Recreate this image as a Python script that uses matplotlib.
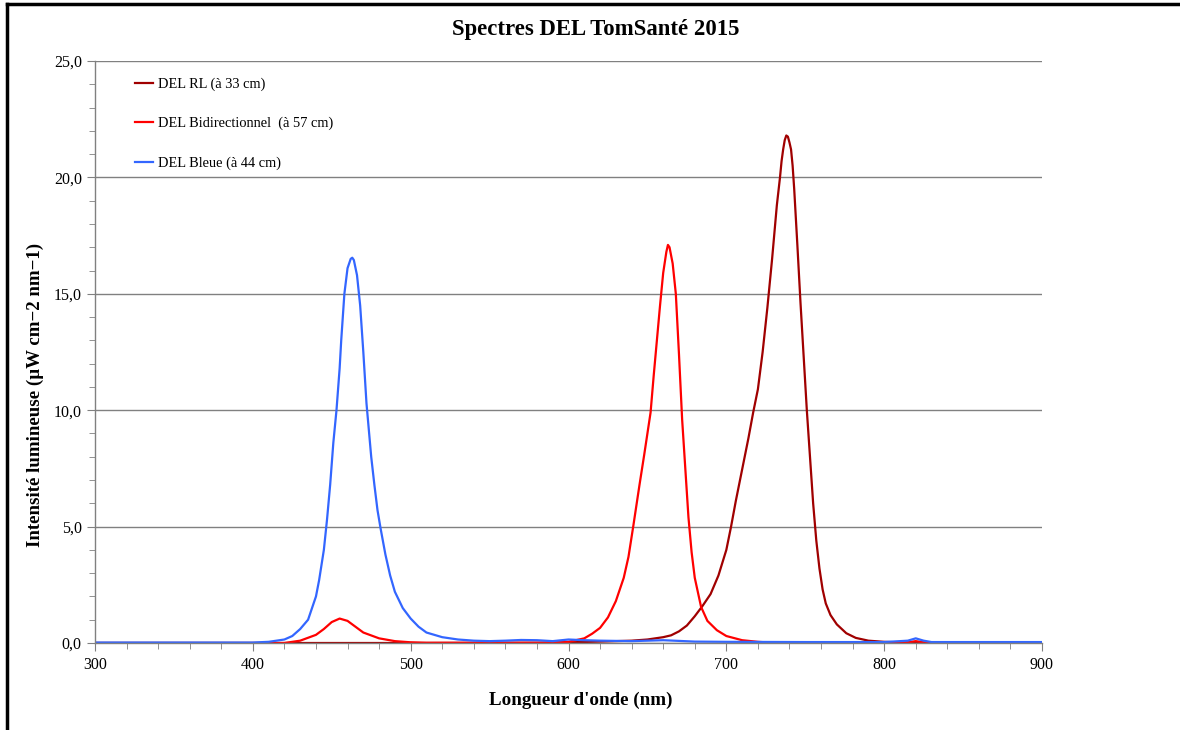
import matplotlib
matplotlib.use("Agg")
import matplotlib.pyplot as plt
from matplotlib.ticker import FuncFormatter, MultipleLocator
from matplotlib.lines import Line2D

plt.rcParams['font.family'] = ['Liberation Serif', 'DejaVu Serif']

# ---- data ----
wl_rl = [300, 400, 500, 580, 600, 620, 640, 650, 660, 665, 670, 675, 680, 685, 690, 695,
         700, 703, 706, 710, 714, 717, 720, 723, 726, 729, 732, 734, 735, 736, 737, 738,
         739, 740, 741, 742, 743, 745, 747, 749, 751, 753, 755, 757, 759, 761, 763, 766,
         770, 776, 782, 790, 800, 810, 820, 900]
val_rl = [0.0, 0.0, 0.0, 0.01, 0.03, 0.06, 0.1, 0.15, 0.25, 0.33, 0.5, 0.75, 1.15, 1.6, 2.1, 2.9,
          4.0, 5.0, 6.1, 7.45, 8.8, 9.9, 10.9, 12.5, 14.4, 16.5, 18.8, 20.0, 20.7, 21.2, 21.6, 21.8,
          21.75, 21.5, 21.2, 20.5, 19.5, 17.1, 14.6, 12.3, 10.0, 8.0, 6.0, 4.4, 3.2, 2.3, 1.7, 1.2,
          0.8, 0.42, 0.22, 0.1, 0.05, 0.03, 0.02, 0.0]

wl_bi = [300, 420, 430, 440, 445, 450, 455, 460, 465, 470, 480, 490, 500, 510, 590, 600,
         610, 615, 620, 625, 630, 635, 638, 641, 645, 648, 650, 652, 654, 656, 658, 660,
         662, 663, 664, 666, 668, 670, 672, 674, 676, 678, 680, 684, 688, 694, 700, 710,
         720, 730, 810, 815, 820, 825, 830, 900]
val_bi = [0.0, 0.0, 0.1, 0.35, 0.6, 0.9, 1.05, 0.95, 0.7, 0.45, 0.2, 0.08, 0.03, 0.01, 0.01, 0.05,
          0.2, 0.4, 0.65, 1.1, 1.8, 2.8, 3.7, 5.0, 6.8, 8.1, 9.0, 9.9, 11.5, 13.0, 14.5, 15.9,
          16.8, 17.1, 17.0, 16.3, 15.0, 12.4, 9.6, 7.5, 5.4, 3.9, 2.8, 1.55, 0.95, 0.55, 0.3, 0.12,
          0.05, 0.01, 0.01, 0.03, 0.08, 0.03, 0.01, 0.01]

wl_bl = [300, 400, 410, 420, 425, 430, 435, 440, 442, 445, 447, 449, 451, 453, 455, 456,
         458, 460, 462, 463, 464, 466, 468, 470, 472, 475, 477, 479, 481, 484, 487, 490,
         495, 500, 505, 510, 520, 530, 540, 550, 560, 570, 580, 590, 600, 610, 620, 640,
         660, 680, 700, 750, 800, 815, 820, 825, 830, 900]
val_bl = [0.02, 0.02, 0.05, 0.15, 0.3, 0.6, 1.0, 2.0, 2.7, 4.0, 5.3, 6.8, 8.6, 10.0, 11.8, 13.0,
          15.0, 16.1, 16.5, 16.55, 16.45, 15.8, 14.5, 12.5, 10.3, 8.0, 6.8, 5.7, 4.9, 3.8, 2.9, 2.2,
          1.5, 1.05, 0.7, 0.45, 0.25, 0.15, 0.1, 0.08, 0.1, 0.13, 0.12, 0.08, 0.15, 0.12, 0.1, 0.08,
          0.12, 0.06, 0.05, 0.04, 0.04, 0.1, 0.2, 0.1, 0.04, 0.04]

labels = ["DEL RL (à 33 cm)", "DEL Bidirectionnel  (à 57 cm)", "DEL Bleue (à 44 cm)"]
colors = ["#A00000", "#FF0000", "#3366FF"]

# ---- figure ----
fig = plt.figure(figsize=(11.8, 7.3), dpi=100)
ax = fig.add_axes([95/1180, 87/730, 947/1180, 582/730])

ax.plot(wl_rl, val_rl, color=colors[0], lw=1.6, label=labels[0])
ax.plot(wl_bi, val_bi, color=colors[1], lw=1.6, label=labels[1])
ax.plot(wl_bl, val_bl, color=colors[2], lw=1.6, label=labels[2])

ax.set_xlim(300, 900)
ax.set_ylim(0, 25)
ax.xaxis.set_major_locator(MultipleLocator(100))
ax.xaxis.set_minor_locator(MultipleLocator(20))
ax.yaxis.set_major_locator(MultipleLocator(5))
ax.yaxis.set_minor_locator(MultipleLocator(1))
ax.yaxis.set_major_formatter(FuncFormatter(lambda v, p: f"{v:.1f}".replace('.', ',')))

ax.grid(axis='y', which='major', color='#808080', lw=1.0)
ax.set_axisbelow(True)
for s in ['top', 'right']:
    ax.spines[s].set_visible(False)
for s in ['left', 'bottom']:
    ax.spines[s].set_color('#808080')
    ax.spines[s].set_linewidth(1.0)
ax.tick_params(which='both', direction='out', color='#808080', labelsize=11.5, labelcolor='black')
ax.tick_params(which='major', length=6)
ax.tick_params(which='minor', length=4)
ax.tick_params(axis='x', pad=4)

ax.set_xlabel("Longueur d'onde (nm)", fontsize=13.7, fontweight='bold')
ax.xaxis.set_label_coords((581 - 95) / 947, -(700 - 643) / 582)
ax.xaxis.label.set_va('center')
ax.set_ylabel("Intensité lumineuse (µW cm−2 nm−1)", fontsize=13.6, fontweight='bold')
ax.yaxis.set_label_coords((35 - 95) / 947, (643 - 395) / 582)
ax.yaxis.label.set_va('center')

fig.text(596/1180, 1 - 30/730, "Spectres DEL TomSanté 2015", ha='center', va='center',
         fontsize=16.4, fontweight='bold')

leg = ax.legend(loc='upper left', bbox_to_anchor=(0.029, 0.994), frameon=False,
                fontsize=10.4, handlelength=1.2, handletextpad=0.35, labelspacing=1.8)

# figure border (left and top visible)
fig.add_artist(Line2D([7/1180, 7/1180], [0, 1 - 4/730], color='black', lw=2.5,
                      transform=fig.transFigure))
fig.add_artist(Line2D([7/1180, 1], [1 - 4/730, 1 - 4/730], color='black', lw=2.5,
                      transform=fig.transFigure))

fig.savefig("out.png", dpi=100)
